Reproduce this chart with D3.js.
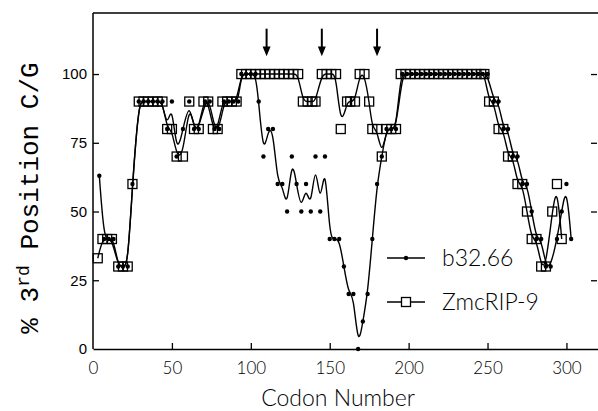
<!DOCTYPE html>
<html>
<head>
<meta charset="utf-8">
<script src="https://cdn.jsdelivr.net/npm/d3@7"></script>
<style>
  body { margin: 0; background: #fff; }
  svg { display: block; }
  .tick line { stroke: #000; stroke-width: 1.3px; }
  .domain { stroke: #000; stroke-width: 1.5px; }
</style>
</head>
<body>
<div id="wrapper"></div>
<script>
// ZmcRIP-9 (open squares)
var codonsZ = [3,6,9,12,16,19,22,25,29,32,35,38,41,44,47,50,53,57,61,64,67,70,73,76,79,82,85,88,91,
  94,97,100,103,106,109,112,115,118,121,124,127,130,133,136,139,141,145,148,151,154,157,161,163,166,169,172,175,
  177,180,183,186,189,192,195,198,201,204,207,210,213,216,219,222,225,228,231,234,237,240,243,246,248,
  251,254,257,260,263,266,269,272,275,278,281,284,287,291,294,297];
var valuesZ = [33,40,40,40,30,30,30,60,90,90,90,90,90,90,80,80,70,70,90,80,80,90,90,80,80,90,90,90,90,
  100,100,100,100,100,100,100,100,100,100,100,100,100,90,90,90,90,100,100,100,100,80,90,90,90,100,100,90,
  80,80,70,80,80,80,100,100,100,100,100,100,100,100,100,100,100,100,100,100,100,100,100,100,100,
  90,90,80,80,70,70,60,60,50,40,40,30,30,50,60,40];

// b32.66 (small dots)
var codonsB = [4,7,10,13,16,19,22,25,29,32,35,38,41,44,47,50,53,57,61,64,67,71,74,77,80,83,86,89,92,
  94,97,100,103,105,108,111,114,117,120,123,126,129,132,135,138,141,144,147,150,153,156,159,162,165,168,171,174,177,180,
  183,186,189,192,196,199,202,205,208,211,214,217,220,223,226,229,232,235,238,241,244,247,250,
  254,257,260,263,266,269,272,275,278,281,284,287,290,294,297,300,303];
var valuesB = [63,40,40,40,30,30,30,60,90,90,90,90,90,90,80,90,70,80,90,80,80,90,90,80,80,90,90,90,90,
  100,100,100,100,90,70,80,80,60,60,50,70,60,50,60,50,70,50,70,40,40,40,30,20,20,0,10,20,40,60,
  70,80,80,80,100,100,100,100,100,100,100,100,100,100,100,100,100,100,100,100,100,100,100,
  90,90,80,80,70,70,60,60,50,40,40,30,30,40,50,60,40];

var arrowCodons = [110,145,180];
var xTicks = [0,50,100,150,200,250,300];
var yTicks = [0,25,50,75,100];
var yTicksRight = [25,50,75,100];

var width = 598, height = 411;
var xscale = d3.scaleLinear().domain([0,320]).range([93,598]);
var yscale = d3.scaleLinear().domain([0,122.2]).range([349,13]);

var canvas = d3.select('#wrapper').append('svg')
  .attr('width',width).attr('height',height);

// frame: top border
canvas.append('line')
  .attr('x1',xscale(0)).attr('x2',xscale(320))
  .attr('y1',yscale(122.2)).attr('y2',yscale(122.2))
  .style('stroke','#000').style('stroke-width','1.5px');

var xAxis = d3.axisBottom(xscale).tickValues(xTicks).tickSizeInner(-6).tickSizeOuter(0).tickPadding(13);
var gx = canvas.append('g').attr('transform','translate(0,'+yscale(0)+')').call(xAxis);
gx.selectAll('text').style('font-family','Lato, "DejaVu Sans", sans-serif')
  .style('font-weight','300').style('font-size','17px').style('fill','#000');
gx.selectAll('.tick').filter(function(d){ return d===0; }).select('line').remove();

var yAxis = d3.axisLeft(yscale).tickValues(yTicks).tickSizeInner(-6).tickSizeOuter(0).tickPadding(6);
var gy = canvas.append('g').attr('transform','translate('+xscale(0)+',0)').call(yAxis);
gy.select('.domain').attr('d','M0,'+yscale(0)+'V'+yscale(122.2));
gy.selectAll('text').style('font-family','"Liberation Sans", Arial, sans-serif')
  .style('font-size','15px').style('fill','#000');
gy.selectAll('.tick').filter(function(d){ return d===0; }).select('line').remove();

var yAxisR = d3.axisRight(yscale).tickValues(yTicksRight).tickSizeInner(-6).tickSizeOuter(0);
var gr = canvas.append('g').attr('transform','translate(597,0)').call(yAxisR);
gr.select('.domain').remove();
gr.selectAll('text').remove();

// curves
var lineZ = d3.line().curve(d3.curveBasis)
  .x(function(d,i){ return xscale(codonsZ[i]); })
  .y(function(d){ return yscale(d); });
var lineB = d3.line().curve(d3.curveBasis)
  .x(function(d,i){ return xscale(codonsB[i]); })
  .y(function(d){ return yscale(d); });

canvas.append('path').datum(valuesB).attr('d',lineB)
  .style('fill','none').style('stroke','#000').style('stroke-width','1.4px');
canvas.append('path').datum(valuesZ).attr('d',lineZ)
  .style('fill','none').style('stroke','#000').style('stroke-width','1.4px');

canvas.append('g').selectAll('rect').data(valuesZ).enter().append('rect')
  .attr('x',function(d,i){ return xscale(codonsZ[i])-4.5; })
  .attr('y',function(d){ return yscale(d)-4.5; })
  .attr('width',9).attr('height',9)
  .style('fill','none').style('stroke','#000').style('stroke-width','1.3px');

canvas.append('g').selectAll('circle').data(valuesB).enter().append('circle')
  .attr('cx',function(d,i){ return xscale(codonsB[i]); })
  .attr('cy',function(d){ return yscale(d); })
  .attr('r',2.2).style('fill','#000');

// arrows
var arrows = canvas.append('g').selectAll('g').data(arrowCodons).enter().append('g');
arrows.append('line')
  .attr('x1',function(d){ return xscale(d); }).attr('x2',function(d){ return xscale(d); })
  .attr('y1',yscale(116.5)).attr('y2',yscale(109))
  .style('stroke','#000').style('stroke-width','2px');
arrows.append('path')
  .attr('d',function(d){ var x=xscale(d), yb=yscale(110), yt=yscale(106.5);
    return 'M'+(x-4)+','+yb+'L'+(x+4)+','+yb+'L'+x+','+yt+'Z'; })
  .style('fill','#000');

// legend
var legend = [{name:'b32.66', y:258, mark:'dot'},{name:'ZmcRIP-9', y:302, mark:'sq'}];
var lg = canvas.append('g').selectAll('g').data(legend).enter().append('g');
lg.append('line').attr('x1',387).attr('x2',425)
  .attr('y1',function(d){ return d.y; }).attr('y2',function(d){ return d.y; })
  .style('stroke','#000').style('stroke-width','1.4px');
lg.filter(function(d){ return d.mark==='dot'; }).append('circle')
  .attr('cx',406).attr('cy',function(d){ return d.y; }).attr('r',2.2).style('fill','#000');
lg.filter(function(d){ return d.mark==='sq'; }).append('rect')
  .attr('x',401.5).attr('y',function(d){ return d.y-4.5; }).attr('width',9).attr('height',9)
  .style('fill','#fff').style('stroke','#000').style('stroke-width','1.3px');
lg.append('text').attr('x',442).attr('y',function(d){ return d.y+8; })
  .text(function(d){ return d.name; })
  .style('font-family','Lato, "DejaVu Sans", sans-serif').style('font-weight','300')
  .style('font-size','23px').style('fill','#000');

// axis titles
canvas.append('text').attr('x',338).attr('y',406).attr('text-anchor','middle')
  .text('Codon Number')
  .style('font-family','Lato, "DejaVu Sans", sans-serif').style('font-weight','300')
  .style('font-size','23px').style('fill','#000');

var yl = canvas.append('text').attr('transform','translate(38,198) rotate(-90)')
  .attr('text-anchor','middle')
  .style('font-family','"Liberation Mono", "Courier New", monospace')
  .style('font-size','26px').style('fill','#000');
yl.append('tspan').text('% 3');
yl.append('tspan').attr('dy','-9').style('font-size','18px').text('rd');
yl.append('tspan').attr('dy','9').text(' Position C/G');
</script>
</body>
</html>
